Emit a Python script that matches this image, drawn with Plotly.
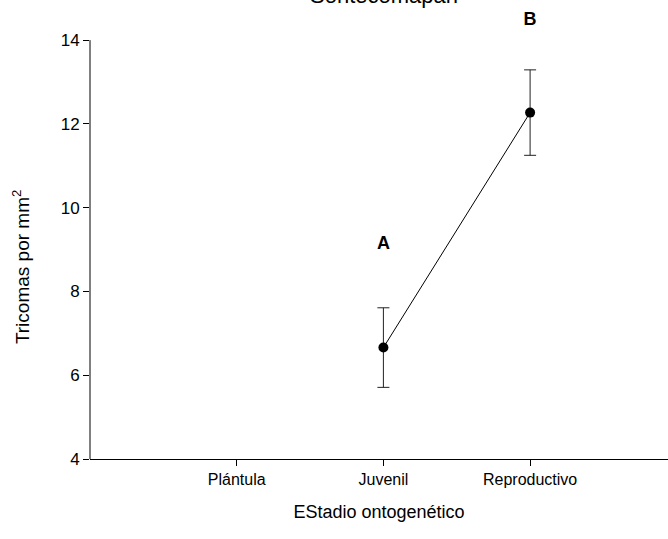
import plotly.graph_objects as go

categories = ["Plántula", "Juvenil", "Reproductivo"]
cat_pos = [1, 2, 3]
means = [None, 6.66, 12.27]
errors = [None, 0.95, 1.02]
letters = ["", "A", "B"]
letter_y = [None, 9.12, 14.48]
y_ticks = [4, 6, 8, 10, 12, 14]

font_family = "Liberation Sans, Arial, sans-serif"

xs = [p for p, m in zip(cat_pos, means) if m is not None]
ys = [m for m in means if m is not None]
es = [e for e in errors if e is not None]

lx = [p for p, l in zip(cat_pos, letters) if l]
ly = [y for y, l in zip(letter_y, letters) if l]
lt = ["<b>%s</b>" % l for l in letters if l]

y_min, y_max = y_ticks[0], y_ticks[-1]

fig = go.Figure()
fig.add_trace(go.Scatter(
    x=xs, y=ys,
    mode="lines+markers",
    line=dict(color="black", width=1),
    marker=dict(color="black", size=10),
    error_y=dict(type="data", array=es, visible=True, color="#222222", thickness=1, width=6),
    showlegend=False,
))
fig.add_trace(go.Scatter(
    x=lx, y=ly, mode="text", text=lt,
    textfont=dict(size=18, color="black", family=font_family),
    textposition="middle center",
    showlegend=False, hoverinfo="skip", cliponaxis=False,
))

# y axis line drawn only from lowest to highest tick
fig.add_shape(type="line", xref="paper", x0=0, x1=0, yref="y", y0=y_min, y1=y_max,
              line=dict(color="black", width=1))

fig.add_annotation(x=(384 - 90) / (668 - 90), y=1.045, xref="paper", yref="paper",
                   text="Sontecomapan", showarrow=False, yanchor="middle", xanchor="center",
                   font=dict(size=22, color="black", family=font_family))

fig.add_annotation(x=-0.118, y=8.6, xref="paper", yref="y",
                   text="Tricomas por mm<sup>2</sup>", textangle=-90, showarrow=False,
                   xanchor="center", yanchor="middle",
                   font=dict(size=19, color="black", family=font_family))

fig.update_layout(
    width=668, height=539,
    margin=dict(l=90, r=0, t=15, b=80),
    plot_bgcolor="white", paper_bgcolor="white",
    font=dict(family=font_family, size=16, color="black"),
    xaxis=dict(
        range=[0, 3.94], tickvals=cat_pos, ticktext=categories,
        showgrid=False, zeroline=False, showline=True, linecolor="black", linewidth=1,
        ticks="outside", ticklen=6, tickcolor="black",
        title=dict(text="EStadio ontogenético", font=dict(size=18), standoff=18),
        tickfont=dict(size=16),
    ),
    yaxis=dict(
        range=[y_min, 14.6], tickvals=y_ticks,
        showgrid=False, zeroline=False, showline=False,
        ticks="outside", ticklen=6, tickcolor="black",
        tickfont=dict(size=17),
    ),
)

fig.write_html("out.html", post_script="document.body.style.margin='0px';",
               config={"displayModeBar": False})
